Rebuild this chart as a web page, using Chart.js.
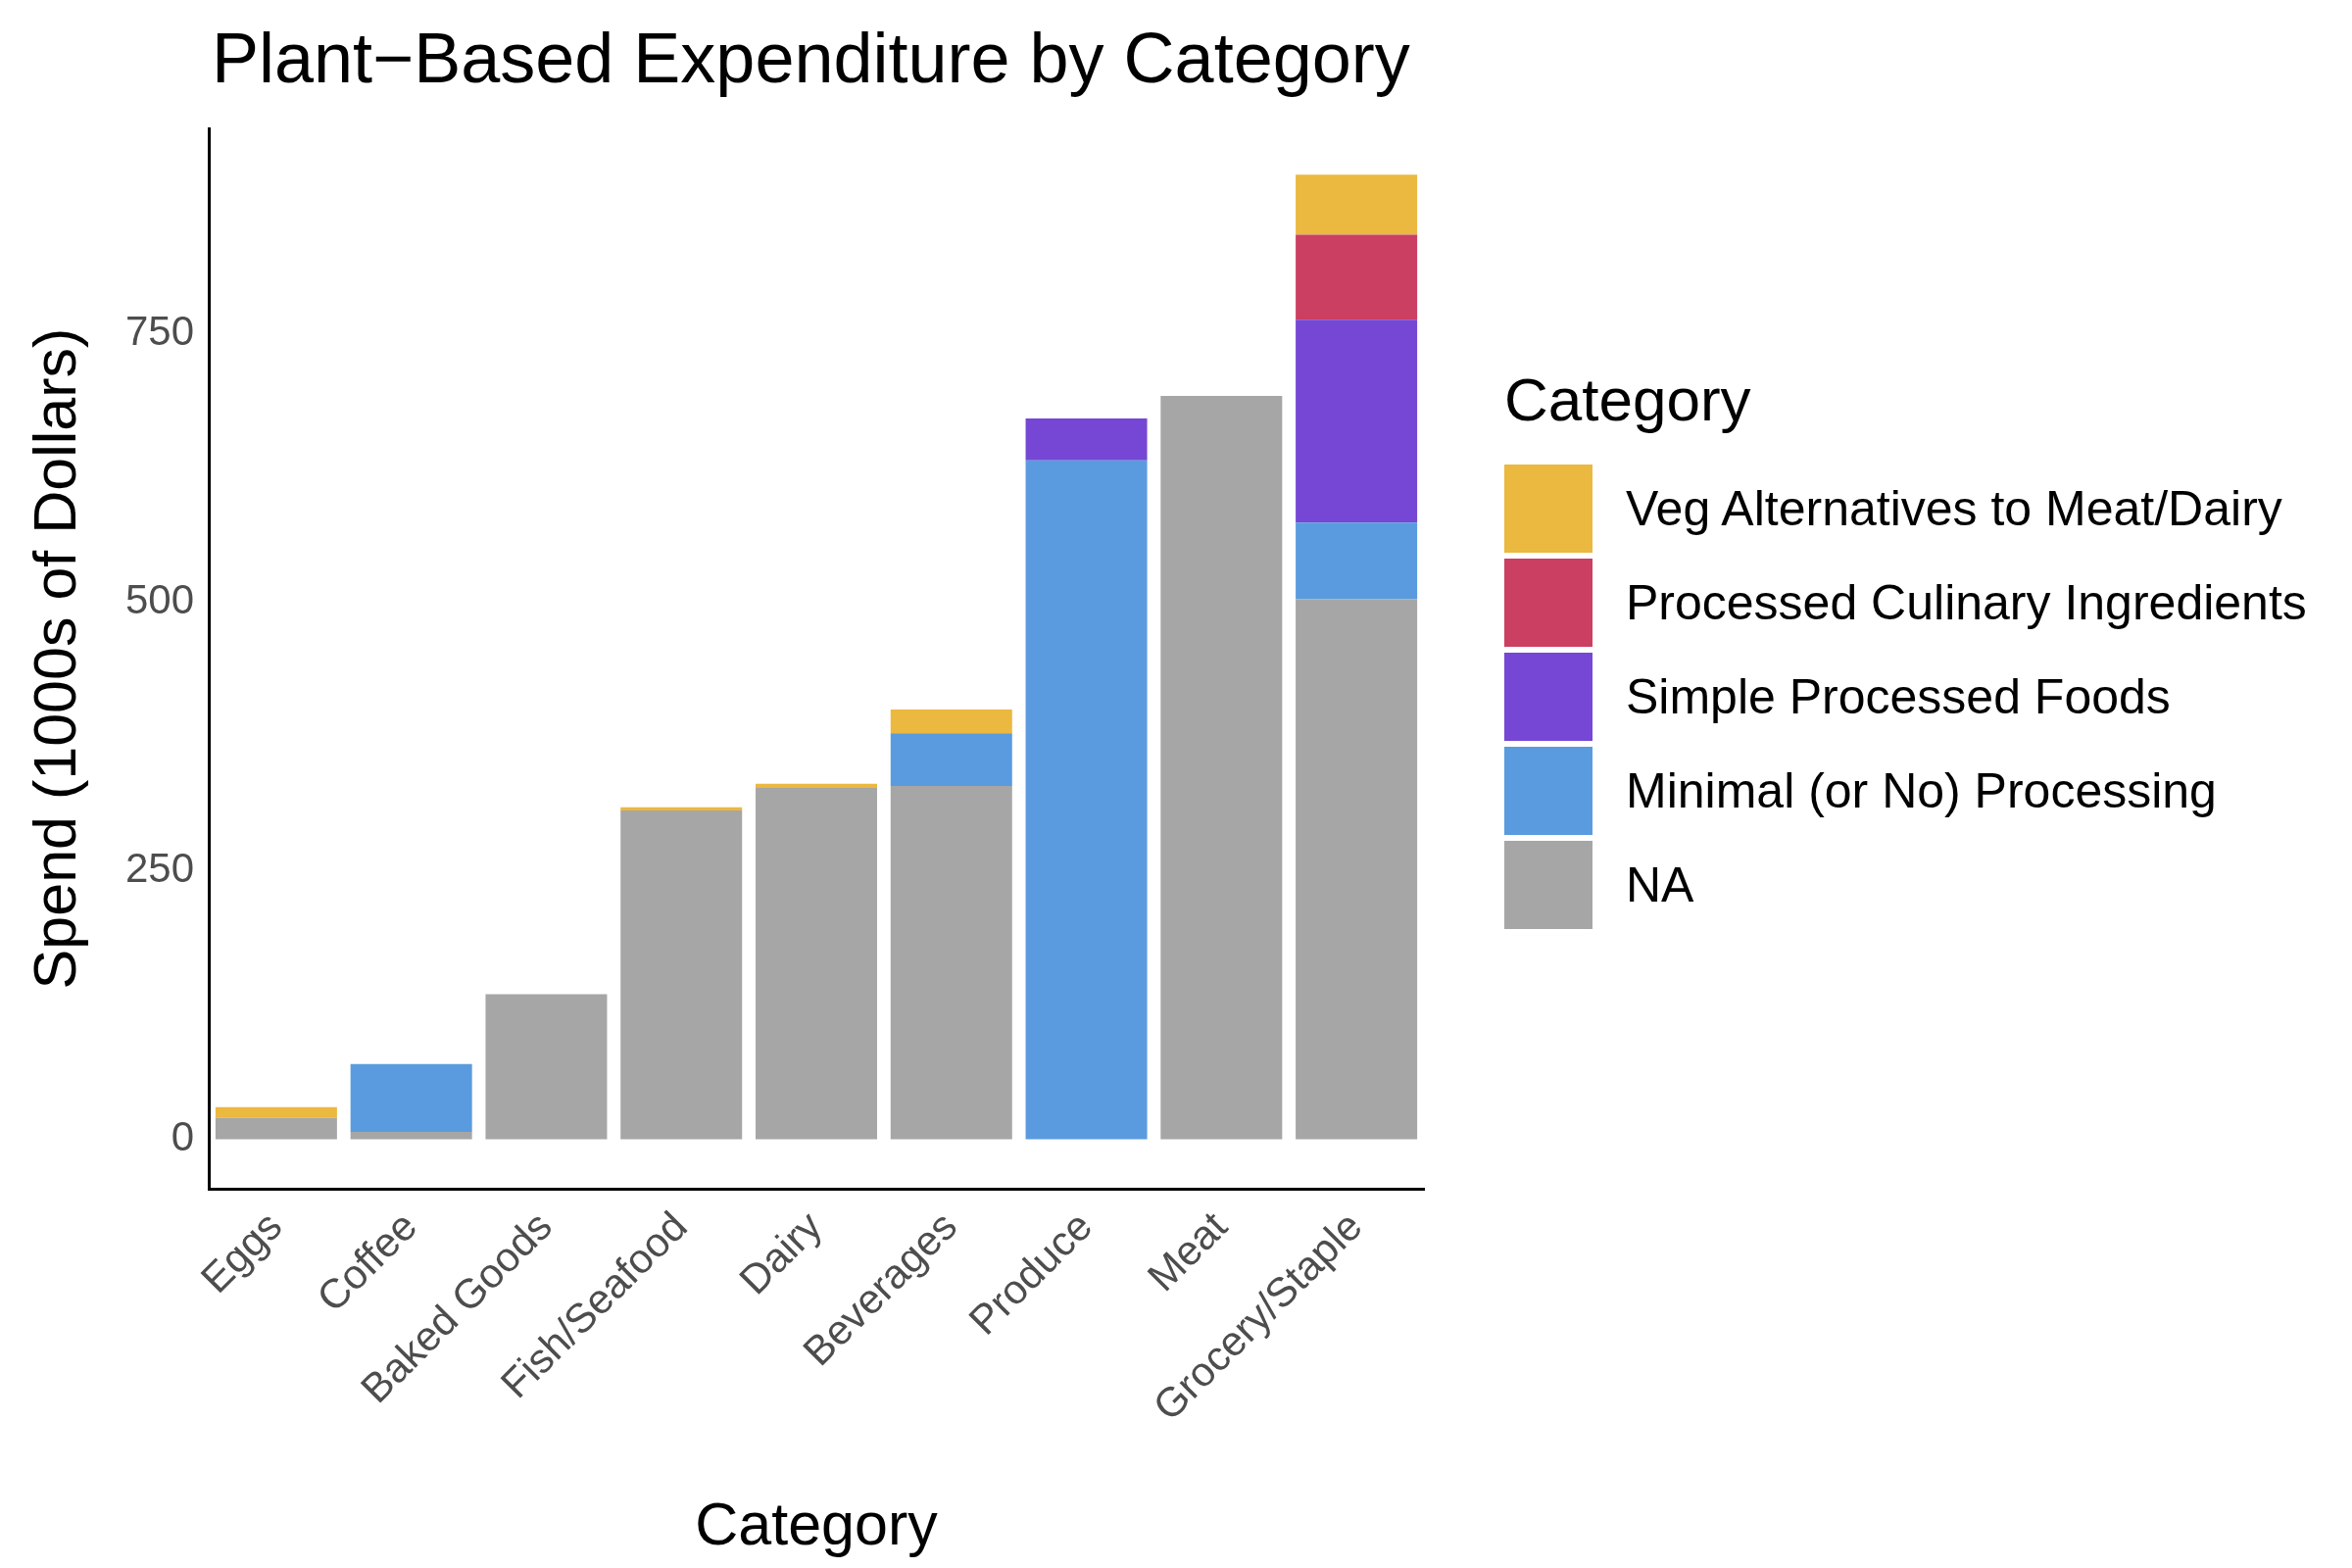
<!DOCTYPE html>
<html><head><meta charset="utf-8">
<script src="https://cdn.jsdelivr.net/npm/chart.js@4"></script>
<style>
body{margin:0;background:#fff;font-family:"Liberation Sans",Arial,sans-serif}
#wrap{position:absolute;left:0;top:0;width:1480px;height:1600px}
#title{position:absolute;left:216px;top:18px;font-size:72px;color:#000}
#legend{position:absolute;left:1535px;top:372px}
#legend h3{font-weight:normal;font-size:62px;margin:0 0 28px 0}
.item{display:flex;align-items:center;height:96px}
.box{width:90px;height:90px;margin-right:34px}
.item span{font-size:50px}
</style></head><body>
<div id="wrap"><canvas id="c"></canvas></div>
<div id="title">Plant−Based Expenditure by Category</div>
<div id="legend"><h3>Category</h3></div>
<script>
const categories = ['Eggs','Coffee','Baked Goods','Fish/Seafood','Dairy','Beverages','Produce','Meat','Grocery/Staple']
const naValues        = [20, 7, 135, 306, 327, 329, 0, 692, 503]
const minimalValues   = [0, 63, 0, 0, 0, 49, 632, 0, 71]
const simpleValues    = [0, 0, 0, 0, 0, 0, 39, 0, 189]
const culinaryValues  = [0, 0, 0, 0, 0, 0, 0, 0, 79]
const vegAltValues    = [10, 0, 0, 3, 4, 22, 0, 0, 56]
const yTicks = [0, 250, 500, 750]

const series = [
  { label: 'NA', data: naValues, color: '#A6A6A6' },
  { label: 'Minimal (or No) Processing', data: minimalValues, color: '#5A9BDF' },
  { label: 'Simple Processed Foods', data: simpleValues, color: '#7647D4' },
  { label: 'Processed Culinary Ingredients', data: culinaryValues, color: '#CB3F62' },
  { label: 'Veg Alternatives to Meat/Dairy', data: vegAltValues, color: '#EBB840' }
]

const legend = document.getElementById('legend')
series.slice().reverse().forEach(s => {
  const d = document.createElement('div')
  d.className = 'item'
  d.innerHTML = '<div class="box" style="background:' + s.color + '"></div><span>' + s.label + '</span>'
  legend.appendChild(d)
})

Chart.defaults.font.family = '"Liberation Sans", Arial, sans-serif'
new Chart(document.getElementById('c'), {
  type: 'bar',
  data: {
    labels: categories,
    datasets: series.map(s => ({
      label: s.label, data: s.data, backgroundColor: s.color,
      borderWidth: 0, categoryPercentage: 0.9, barPercentage: 1
    }))
  },
  options: {
    responsive: true, maintainAspectRatio: false, animation: false,
    devicePixelRatio: 1,
    layout: { padding: { top: 131, right: 27, left: 20, bottom: 0 } },
    plugins: { legend: { display: false }, tooltip: { enabled: false } },
    scales: {
      x: {
        stacked: true,
        afterFit: s => { s.height = 387 },
        grid: { display: false, drawTicks: true, tickColor: '#333', tickLength: 12, tickWidth: 3 },
        border: { color: '#000', width: 3 },
        ticks: { color: '#4d4d4d', font: { size: 42 }, maxRotation: 45, minRotation: 45 },
        title: { display: true, text: 'Category', color: '#000', font: { size: 61 }, padding: { top: 10 } }
      },
      y: {
        stacked: true, min: -46, max: 941,
        afterFit: s => { s.width = 193 },
        afterBuildTicks: ax => { ax.ticks = yTicks.map(v => ({ value: v })) },
        grid: { display: false, drawTicks: true, tickColor: '#333', tickLength: 12, tickWidth: 3 },
        border: { color: '#000', width: 3 },
        ticks: { color: '#4d4d4d', font: { size: 42 } },
        title: { display: true, text: 'Spend (1000s of Dollars)', color: '#000', font: { size: 61 } }
      }
    }
  }
})
</script>
</body></html>
